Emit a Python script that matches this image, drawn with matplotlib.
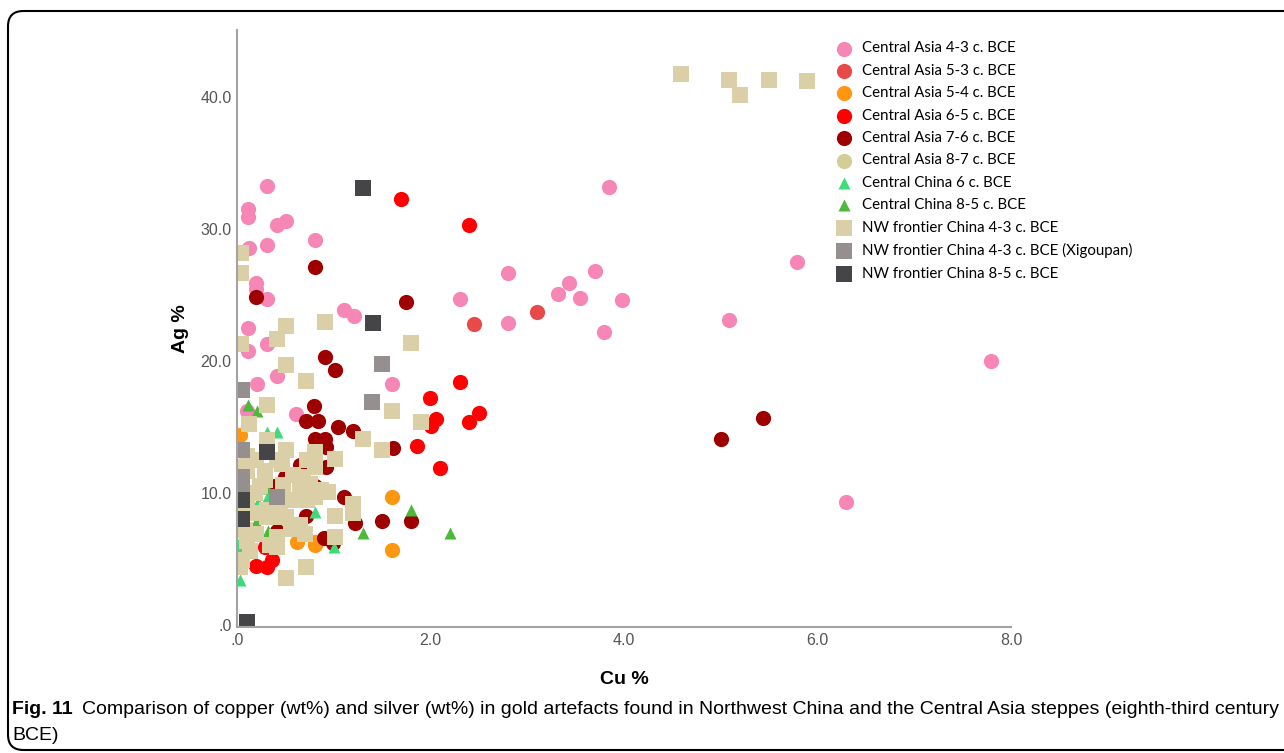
import matplotlib
matplotlib.use("Agg")
import matplotlib.pyplot as plt
from matplotlib import font_manager
from matplotlib.patches import FancyBboxPatch
from matplotlib.ticker import FixedLocator, FuncFormatter

# Cu % / Ag % readings per group
ca_43_cu = [0.31, 0.11, 0.11, 0.41, 0.51, 0.12, 0.31, 0.81, 0.20, 0.20, 0.31, 1.11, 1.21,
            0.11, 0.11, 0.31, 0.41, 0.21, 1.60, 0.10, 0.61, 3.85, 2.80, 3.70, 3.43, 3.32,
            3.55, 3.98, 2.30, 2.80, 3.79, 5.79, 5.09, 7.79, 6.29]
ca_43_ag = [33.3, 31.5, 30.9, 30.3, 30.6, 28.6, 28.8, 29.2, 25.9, 25.5, 24.7, 23.9, 23.4,
            22.5, 20.8, 21.3, 18.9, 18.3, 18.3, 16.2, 16.0, 33.2, 26.7, 26.8, 25.9, 25.1,
            24.8, 24.6, 24.7, 22.9, 22.2, 27.5, 23.1, 20.0, 9.3]

ca_53_cu = [2.45, 3.10]
ca_53_ag = [22.8, 23.7]

ca_54_cu = [0.03, 1.60, 1.60, 0.62, 0.81, 0.81]
ca_54_ag = [14.4, 9.7, 5.7, 6.3, 6.3, 6.1]

ca_65_cu = [1.70, 2.40, 2.30, 1.99, 2.50, 2.40, 2.06, 2.00, 1.86, 2.10, 0.20, 0.31,
            0.36, 0.29, 0.33]
ca_65_ag = [32.3, 30.3, 18.4, 17.2, 16.1, 15.4, 15.6, 15.1, 13.6, 11.9, 4.5, 4.4,
            4.9, 5.9, 6.2]

ca_76_cu = [0.81, 0.20, 1.75, 0.91, 1.01, 0.80, 0.71, 0.84, 1.04, 1.20, 0.81, 0.91,
            0.92, 1.61, 0.65, 0.92, 0.50, 0.39, 0.81, 1.11, 0.71, 1.22, 1.50, 1.80,
            0.90, 0.41, 0.99, 5.44, 5.00, 0.75]
ca_76_ag = [27.1, 24.9, 24.5, 20.3, 19.3, 16.6, 15.5, 15.5, 15.0, 14.7, 14.1, 14.1,
            13.5, 13.4, 12.1, 12.0, 11.2, 10.5, 10.5, 9.7, 8.3, 7.7, 7.9, 7.9,
            6.6, 7.1, 6.2, 15.7, 14.1, 12.5]

ca_87_cu = []
ca_87_ag = []

cc_6_cu = [0.31, 0.41, 0.03, 0.03, 0.03, 0.81, 1.00, 0.10, 0.31, 0.31, 0.22, 0.41, 0.03]
cc_6_ag = [14.6, 14.6, 3.4, 5.8, 6.4, 8.6, 5.9, 10.0, 9.6, 9.0, 9.3, 8.1, 9.0]

cc_85_cu = [0.11, 0.21, 1.80, 2.20, 1.30, 0.31, 0.20, 0.32, 0.03]
cc_85_ag = [16.7, 16.2, 8.7, 7.0, 7.0, 10.4, 7.8, 7.1, 9.8]

nw_43_cu = [0.31, 0.12, 0.31, 0.51, 0.10, 0.20, 0.41, 0.29, 0.46, 0.10, 0.72, 0.81,
            0.81, 0.68, 0.58, 0.48, 0.65, 0.75, 0.87, 0.81, 0.94, 0.72, 0.44, 0.31,
            0.10, 0.19, 0.08, 0.31, 0.51, 0.56, 0.41, 0.20, 0.10, 0.65, 0.70, 1.01,
            1.01, 1.20, 1.20, 0.34, 0.41, 0.13, 0.03, 0.05, 0.71, 0.51, 0.24, 0.29,
            0.19, 0.58, 0.41, 1.30, 1.50, 1.60, 1.90, 1.01, 0.51, 0.71, 0.04, 0.04,
            0.91, 0.51, 0.41, 1.80, 0.04, 0.03, 0.03, 0.03,
            4.59, 5.09, 5.20, 5.50, 5.89]
nw_43_ag = [16.7, 15.2, 14.0, 13.3, 12.8, 12.5, 12.5, 11.7, 12.2, 11.7, 12.5, 13.1,
            12.0, 11.2, 11.4, 10.6, 10.5, 10.7, 10.2, 9.7, 10.1, 9.5, 9.0, 8.7,
            9.2, 8.5, 7.2, 8.2, 8.2, 7.3, 6.7, 6.9, 6.4, 7.6, 6.9, 8.3,
            6.7, 9.2, 8.5, 6.1, 5.9, 5.6, 4.4, 4.9, 4.4, 3.6, 10.5, 11.0,
            10.0, 9.5, 8.2, 14.1, 13.3, 16.2, 15.4, 12.6, 19.7, 18.5, 28.2, 26.7,
            23.0, 22.7, 21.7, 21.4, 21.3, 12.0, 8.8, 7.5,
            41.8, 41.3, 40.2, 41.3, 41.2]

nw_xig_cu = [0.05, 1.50, 1.40, 0.05, 0.05, 0.41, 0.05]
nw_xig_ag = [17.8, 19.8, 16.9, 13.3, 10.7, 9.7, 11.2]

nw_85_cu = [1.30, 1.41, 0.31, 0.05, 0.05, 0.10]
nw_85_ag = [33.1, 22.9, 13.1, 9.5, 8.0, 0.25]

groups = [
    ("Central Asia 4-3 c. BCE", ca_43_cu, ca_43_ag, "o", "#f586b5"),
    ("Central Asia 5-3 c. BCE", ca_53_cu, ca_53_ag, "o", "#e84a4a"),
    ("Central Asia 5-4 c. BCE", ca_54_cu, ca_54_ag, "o", "#ff9612"),
    ("Central Asia 6-5 c. BCE", ca_65_cu, ca_65_ag, "o", "#ff0000"),
    ("Central Asia 7-6 c. BCE", ca_76_cu, ca_76_ag, "o", "#9e0000"),
    ("Central Asia 8-7 c. BCE", ca_87_cu, ca_87_ag, "o", "#d3cd98"),
    ("Central China 6 c. BCE", cc_6_cu, cc_6_ag, "^", "#3ddc78"),
    ("Central China 8-5 c. BCE", cc_85_cu, cc_85_ag, "^", "#4cb93a"),
    ("NW frontier China 4-3 c. BCE", nw_43_cu, nw_43_ag, "s", "#dacfa6"),
    ("NW frontier China 4-3 c. BCE (Xigoupan)", nw_xig_cu, nw_xig_ag, "s", "#968f8f"),
    ("NW frontier China 8-5 c. BCE", nw_85_cu, nw_85_ag, "s", "#454547"),
]

x_ticks = [0, 2, 4, 6, 8]
y_ticks = [0, 10, 20, 30, 40]

W, H = 1284, 753
fig = plt.figure(figsize=(W / 100, H / 100), dpi=100)
ax = fig.add_axes([237 / W, 126 / H, 774 / W, 597 / H])

handles = []
for label, cu, ag, marker, color in groups:
    size = 75 if marker == "^" else 120
    h = ax.scatter(cu, ag, s=size, marker=marker, color=color, linewidths=0, label=label)
    handles.append(h)

ax.set_xlim(0, 8.0)
ax.set_ylim(-0.15, 45.1)
for side in ["top", "right"]:
    ax.spines[side].set_visible(False)
for side in ["left", "bottom"]:
    ax.spines[side].set_color("#a3a3a3")
    ax.spines[side].set_linewidth(1.5)

fmt = FuncFormatter(lambda v, _: ".0" if v == 0 else f"{v:.1f}")
ax.xaxis.set_major_locator(FixedLocator(x_ticks))
ax.yaxis.set_major_locator(FixedLocator(y_ticks))
ax.xaxis.set_major_formatter(fmt)
ax.yaxis.set_major_formatter(fmt)
ax.tick_params(length=0, labelsize=11.5, labelcolor="#555555", pad=4)
for t in ax.get_xticklabels() + ax.get_yticklabels():
    t.set_family("Liberation Sans")

ax.set_xlabel("Cu %", fontsize=14, fontweight="bold", family="Liberation Sans", labelpad=17)
ax.set_ylabel("Ag %", fontsize=14, fontweight="bold", family="Liberation Sans", labelpad=8)

leg = ax.legend(handles=handles, loc="upper left", bbox_to_anchor=(827 / W, 1 - 34 / H),
                bbox_transform=fig.transFigure, frameon=False, prop={"family": "Lato", "size": 10.8},
                labelspacing=0.56, handletextpad=0.65, borderpad=0, scatterpoints=1,
                handlelength=1.2)

# rounded frame around figure + caption
frame = FancyBboxPatch((8 / W, 3 / H), 1.05, 1 - 14 / H, boxstyle="round,pad=0,rounding_size=0.012",
                       transform=fig.transFigure, fill=False, edgecolor="black", linewidth=1.5,
                       mutation_aspect=W / H)
fig.patches.append(frame)

names = {f.name for f in font_manager.fontManager.ttflist}
cap_font = "Liberation Sans Narrow" if "Liberation Sans Narrow" in names else "Liberation Sans"

t1 = fig.text(12 / W, 1 - 709 / H, "Fig. 11", fontsize=14, fontweight="bold", family=cap_font, va="center")
fig.canvas.draw()
bb = t1.get_window_extent()
fig.text(bb.x1 / W + 9 / W, 1 - 709 / H,
         "Comparison of copper (wt%) and silver (wt%) in gold artefacts found in Northwest China and "
         "the Central Asia steppes (eighth-third century",
         fontsize=14, family=cap_font, va="center")
fig.text(12 / W, 1 - 735 / H, "BCE)", fontsize=14, family=cap_font, va="center")

fig.savefig("out.png", dpi=100)
